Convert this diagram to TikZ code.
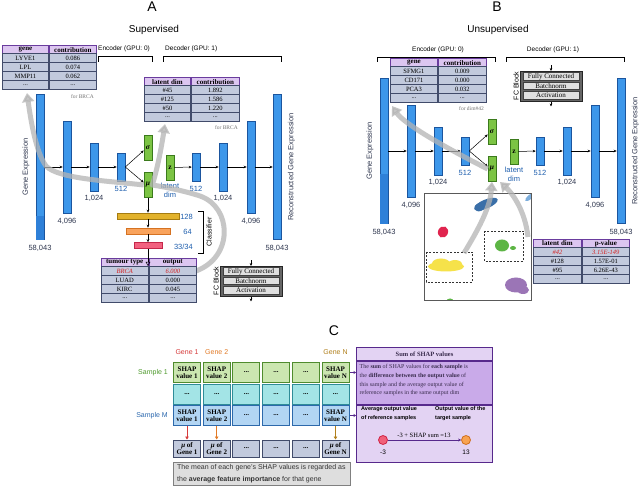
\documentclass[tikz,border=0pt]{standalone}
\usepackage{fontspec}
\setmainfont{Liberation Serif}
\setsansfont{Liberation Sans}
\usetikzlibrary{arrows.meta,calc}
\definecolor{barfill}{HTML}{3D97EA}
\definecolor{bardark}{HTML}{2E80D8}
\definecolor{barline}{HTML}{1B559E}
\definecolor{grfill}{HTML}{7CC444}
\definecolor{grline}{HTML}{3B7A1C}
\definecolor{thfill}{HTML}{DCC6F0}
\definecolor{thline}{HTML}{6A3C9E}
\definecolor{trfill}{HTML}{C2CADD}
\definecolor{trline}{HTML}{414B6A}
\definecolor{labblue}{HTML}{1F5FAE}
\definecolor{labgray}{HTML}{303850}
\definecolor{ybar}{HTML}{E2B22C}
\definecolor{ybarl}{HTML}{A57C12}
\definecolor{obar}{HTML}{F9A35C}
\definecolor{obarl}{HTML}{D57222}
\definecolor{rbar}{HTML}{F2617F}
\definecolor{rbarl}{HTML}{C5274A}
\definecolor{redtxt}{HTML}{D42020}
\definecolor{garr}{HTML}{B4B4B4}
\definecolor{c1fill}{HTML}{CBE6B0}
\definecolor{c1line}{HTML}{4F8B2E}
\definecolor{c2fill}{HTML}{A3E4E6}
\definecolor{c2line}{HTML}{2F8C98}
\definecolor{c3fill}{HTML}{B2D5F3}
\definecolor{c3line}{HTML}{2D69AB}
\definecolor{sumhead}{HTML}{E3D3F3}
\definecolor{sumdesc}{HTML}{C9AAE9}
\definecolor{sumline}{HTML}{57298C}
\definecolor{sumtext}{HTML}{3A2D4E}
\definecolor{gene1}{HTML}{D63A3A}
\definecolor{gene2}{HTML}{E27A26}
\definecolor{geneN}{HTML}{B07F1A}
\definecolor{samp1}{HTML}{4E9A2C}
\definecolor{sampM}{HTML}{2B68AE}
\definecolor{cblue}{HTML}{3A6FA8}
\definecolor{clblue}{HTML}{7DAEDC}
\definecolor{cred}{HTML}{E0244E}
\definecolor{cgreen}{HTML}{5DB545}
\definecolor{cyellow}{HTML}{F6E24A}
\definecolor{cpurple}{HTML}{9B75B6}
\definecolor{circr}{HTML}{F0607A}
\definecolor{circrl}{HTML}{D02444}
\definecolor{circo}{HTML}{F8A352}
\definecolor{circol}{HTML}{D07020}

\tikzset{
 bar/.style={draw=barline, fill=barfill, line width=0.6pt, minimum width=8, inner sep=0},
 grnbox/.style={draw=grline, fill=grfill, line width=0.6pt, minimum width=8, minimum height=25, inner sep=0, font=\rmfamily\bfseries\itshape\fontsize{7.5}{8}\selectfont},
 numlab/.style={text=labgray, font=\sffamily\fontsize{7.5}{9}\selectfont, inner sep=0},
 bluelab/.style={text=labblue, font=\sffamily\fontsize{7.5}{9.5}\selectfont, inner sep=0, align=center},
 arr/.style={-{Stealth[length=3pt,width=2.6pt]}, line width=0.5pt, black},
 thead/.style={draw=thline, fill=thfill, line width=0.9pt, minimum height=8, inner sep=0, font=\rmfamily\bfseries\fontsize{7}{8}\selectfont},
 trow/.style={draw=trline, fill=trfill, line width=0.9pt, minimum height=9, inner sep=0, font=\rmfamily\fontsize{6.5}{7}\selectfont},
 tnote/.style={text=black!55, font=\rmfamily\fontsize{5.5}{6}\selectfont, inner sep=0},
 brtext/.style={font=\sffamily\fontsize{6.5}{7}\selectfont, inner sep=0},
 garrow/.style={draw=garr, line width=5pt, opacity=0.75, line join=round, -{Triangle[length=9pt,width=12pt]}},
 fcouter/.style={draw=black!85, fill=black!60, line width=0.9pt, minimum width=62, minimum height=30, inner sep=0},
 fcrow/.style={draw=black!75, fill=black!12, line width=0.5pt, minimum width=56, minimum height=7.5, inner sep=0, font=\rmfamily\fontsize{7}{7}\selectfont},
 cbox/.style={minimum width=27, minimum height=20, inner sep=0, line width=1pt, align=center, font=\rmfamily\bfseries\fontsize{7}{7.5}\selectfont},
 crowa/.style={cbox, draw=c1line, fill=c1fill},
 crowb/.style={cbox, draw=c2line, fill=c2fill},
 crowc/.style={cbox, draw=c3line, fill=c3fill},
 crowd/.style={cbox, draw=trline, fill=trfill, minimum height=17},
 sumbox/.style={draw=sumline, line width=1pt, minimum width=136, inner sep=0, anchor=north west},
}

\newcommand\vaenet[2]{%
 \node[bar, minimum height=145] (#1b1) at (40,167) {};
 \node[fill=bardark, minimum width=7.4, minimum height=#2, inner sep=0, anchor=south] (#1b1d) at (#1b1.south) {};
 \node[bar, minimum height=92] (#1b2) at (67,167) {};
 \node[bar, minimum height=48] (#1b3) at (94,167) {};
 \node[bar, minimum height=28] (#1b4) at (121,167) {};
 \node[grnbox] (#1sig) at (148,148) {σ};
 \node[grnbox] (#1mu) at (148,185) {μ};
 \node[grnbox, font=\rmfamily\bfseries\fontsize{7.5}{8}\selectfont] (#1z) at (170,167.5) {z};
 \node[bar, minimum height=28] (#1b5) at (196,167) {};
 \node[bar, minimum height=48] (#1b6) at (223,167) {};
 \node[bar, minimum height=92] (#1b7) at (251,167) {};
 \node[bar, minimum height=145] (#1b8) at (277,167) {};
 \draw[arr] (#1b1) -- (#1b2);
 \draw[arr] (#1b2) -- (#1b3);
 \draw[arr] (#1b3) -- (#1b4);
 \draw[arr] (#1b4.east) -- (#1sig.-150);
 \draw[arr] (#1b4.east) -- (#1mu.150);
 \draw[arr] (#1z) -- (#1b5);
 \draw[arr] (#1b5) -- (#1b6);
 \draw[arr] (#1b6) -- (#1b7);
 \draw[arr] (#1b7) -- (#1b8);
 \node[numlab, anchor=north, yshift=-5pt] (#1l1) at (#1b1.south) {58,043};
 \node[numlab, anchor=north, yshift=-5pt] (#1l2) at (#1b2.south) {4,096};
 \node[numlab, anchor=north, yshift=-4pt] (#1l3) at (#1b3.south) {1,024};
 \node[bluelab, anchor=north, yshift=-5pt] (#1l4) at (#1b4.south) {512};
 \node[bluelab, anchor=north, yshift=-2.5pt] (#1lz) at (#1z.south) {latent\\dim};
 \node[bluelab, anchor=north, yshift=-5pt] (#1l5) at (#1b5.south) {512};
 \node[numlab, anchor=north, yshift=-4pt] (#1l6) at (#1b6.south) {1,024};
 \node[numlab, anchor=north, yshift=-5pt] (#1l7) at (#1b7.south) {4,096};
 \node[numlab, anchor=north, yshift=-5pt] (#1l8) at (#1b8.south) {58,043};
 \node[numlab, rotate=90] (#1ge) at ([xshift=-14pt]#1b1.center) {Gene Expression};
 \node[numlab, rotate=90] (#1rge) at ([xshift=14.5pt]#1b8.center) {Reconstructed Gene Expression};
}

\newcommand\mkhead[7]{%
 \node[thead, minimum width=#4, anchor=north west] (#1h1) at (#2,#3) {#6};
 \node[thead, minimum width=#5, anchor=north west] (#1h2) at (#1h1.north east) {#7};
}
\newcommand\mkrow[7]{%
 \node[trow, minimum width=#4, anchor=north west] (#1a) at (#2,#3) {#6};
 \node[trow, minimum width=#5, anchor=north west] (#1b) at (#1a.north east) {#7};
}
\newcommand\fcblock[3]{%
 \node[fcouter, anchor=north] (#1fc) at (#2,#3) {};
 \node[fcrow] (#1fc1) at (#2,#3+5.5) {Fully Connected};
 \node[fcrow] (#1fc2) at (#2,#3+15) {Batchnorm};
 \node[fcrow] (#1fc3) at (#2,#3+24.5) {Activation};
 \coordinate (#1fcin) at (#2,#3-5.5);
 \coordinate (#1fcout) at (#2,#3+35.5);
 \draw[arr] (#1fcin) -- (#1fc.north);
 \draw[arr] (#1fc.south) -- (#1fcout);
 \node[rotate=90, font=\sffamily\fontsize{7}{8}\selectfont, inner sep=0] (#1fcl) at (#2-35,#3+15) {FC Block};
}
\newcommand\shaprow[9]{%
 \node[#3] (#1a) at (187,#2) {#4};
 \node[#3] (#1b) at (216.7,#2) {#5};
 \node[#3] (#1c) at (246.4,#2) {#6};
 \node[#3] (#1d) at (276.1,#2) {#7};
 \node[#3] (#1e) at (305.8,#2) {#8};
 \node[#3] (#1f) at (335.5,#2) {#9};
}

\begin{document}
\begin{tikzpicture}[x=1pt,y=-1pt]
\useasboundingbox (0,0) rectangle (640,494);
\fill[white] (0,0) rectangle (640,494);

% ---------- titles ----------
\node[font=\sffamily\fontsize{14}{14}\selectfont, inner sep=0] (titA) at (152,7) {A};
\node[font=\sffamily\fontsize{10}{10}\selectfont, inner sep=0] (supA) at (154,30) {Supervised};
\node[font=\sffamily\fontsize{14}{14}\selectfont, inner sep=0] (titB) at (497,7) {B};
\node[font=\sffamily\fontsize{10}{10}\selectfont, inner sep=0] (supB) at (498,30) {Unsupervised};

% ---------- brackets ----------
\draw[line width=0.7pt] (98,62) -- (98,56) -- (152,56) -- (152,62);
\node[brtext, anchor=west] (encA) at (98,49) {Encoder (GPU: 0)};
\draw[line width=0.7pt] (163,62) -- (163,56) -- (281,56) -- (281,62);
\node[brtext, anchor=west] (decA) at (165,49) {Decoder (GPU: 1)};
\draw[line width=0.7pt] (377,62) -- (377,57) -- (495,57) -- (495,62);
\node[brtext] (encB) at (438,50) {Encoder (GPU: 0)};
\draw[line width=0.7pt] (506,62) -- (506,57) -- (624,57) -- (624,62);
\node[brtext] (decB) at (553,50) {Decoder (GPU: 1)};

% ---------- networks ----------
\vaenet{A}{24}
\begin{scope}[shift={(344,-16)}]
\vaenet{B}{50}
\end{scope}

% ---------- classifier ----------
\node[draw=ybarl, fill=ybar, line width=0.6pt, minimum width=62, minimum height=6, inner sep=0] (cl1) at (148,216) {};
\node[draw=obarl, fill=obar, line width=0.6pt, minimum width=44, minimum height=6, inner sep=0] (cl2) at (148,231) {};
\node[draw=rbarl, fill=rbar, line width=0.6pt, minimum width=28, minimum height=6, inner sep=0] (cl3) at (148,245.5) {};
\node[bluelab, anchor=east] (cl1l) at (193,216.5) {128};
\node[bluelab, anchor=east] (cl2l) at (192,231.5) {64};
\node[bluelab, anchor=east] (cl3l) at (193,246.5) {33/34};
\draw[arr] (Amu) -- (cl1);
\draw[arr] (cl1) -- (cl2);
\draw[arr] (cl2) -- (cl3);
\draw[line width=0.7pt] (198,211) -- (203,211) -- (203,253) -- (198,253);
\node[rotate=90, font=\sffamily\fontsize{7}{8}\selectfont, inner sep=0] (clsl) at (209,232) {Classifier};

% ---------- scatter ----------
\begin{scope}
\clip (424,193) rectangle (531,300);
\fill[cblue, rotate around={22:(486,204)}] (486,204) ellipse [x radius=12.5, y radius=4.5];
\fill[cblue, rotate around={22:(480,207)}] (480,207) ellipse [x radius=6, y radius=4];
\fill[clblue, rotate around={40:(530,197)}] (530,197) ellipse [x radius=6, y radius=2.2];
\fill[cred, rotate around={-25:(443,232)}] (443,232) ellipse [x radius=5, y radius=5.8];
\fill[cgreen] (502,245.5) ellipse [x radius=7, y radius=6];
\fill[cgreen] (513,248) ellipse [x radius=3, y radius=2];
\fill[cyellow] (446,266.5) ellipse [x radius=18, y radius=5];
\fill[cyellow] (441,263.5) ellipse [x radius=9, y radius=5];
\fill[cyellow] (455,264) ellipse [x radius=7, y radius=4];
\fill[cpurple] (516,285) ellipse [x radius=11, y radius=7.5];
\fill[cpurple] (523,290) ellipse [x radius=6, y radius=4];
\fill[cgreen] (450,301) ellipse [x radius=3.5, y radius=2.5];
\end{scope}
\node[draw=black!65, line width=0.6pt, minimum width=107, minimum height=107, inner sep=0, anchor=north west] (scat) at (424,193) {};
\draw[dash pattern=on 2pt off 1.5pt, black!80, line width=0.6pt] (484,231) rectangle (523,261);
\draw[dash pattern=on 2pt off 1.5pt, black!80, line width=0.6pt] (426,252) rectangle (472,282);

% ---------- gray attribution arrows ----------
\coordinate (tAout) at (196,271);
\coordinate (lAtip) at (165,124);
\coordinate (gAtip) at (27,93);
\coordinate (gBtip) at (392,106);
\coordinate (ybox) at (464,253);
\coordinate (pBout) at (528,237);
\coordinate (Bzm) at (500,182);
\draw[garrow] (tAout) .. controls (234,257) and (232,207) .. (200,196) .. controls (185,191) and (165,187) .. (Amu.east) .. controls (157,170) and (161,150) .. (lAtip);
\draw[garrow] (Amu.west) .. controls (110,181) and (58,179) .. (46,166) .. controls (36,152) and (31,122) .. (gAtip);
\draw[garrow] (Bmu.west) .. controls (450,150) and (405,125) .. (gBtip);
\draw[garrow] (ybox) .. controls (478,230) and (490,208) .. (Bmu.south);
\draw[garrow] (pBout) .. controls (525,210) and (512,193) .. (Bzm);

% ---------- tables ----------
\mkhead{gA}{2}{45.5}{46}{47}{gene}{contribution}
\mkrow{gA1}{2}{53.5}{46}{47}{LYVE1}{0.086}
\mkrow{gA2}{2}{62.5}{46}{47}{LPL}{0.074}
\mkrow{gA3}{2}{71.5}{46}{47}{MMP11}{0.062}
\mkrow{gA4}{2}{80.5}{46}{47}{...}{...}
\node[tnote, anchor=east] (gAn) at (94,97) {for BRCA};

\mkhead{lA}{144}{77.5}{46}{48}{latent dim}{contribution}
\mkrow{lA1}{144}{85.5}{46}{48}{\#45}{1.892}
\mkrow{lA2}{144}{94.5}{46}{48}{\#125}{1.586}
\mkrow{lA3}{144}{103.5}{46}{48}{\#50}{1.220}
\mkrow{lA4}{144}{112.5}{46}{48}{...}{...}
\node[tnote, anchor=east] (lAn) at (238,128) {for BRCA};

\mkhead{tA}{100.5}{258}{47.5}{47}{tumour type}{output}
\mkrow{tA1}{100.5}{266}{47.5}{47}{\textcolor{redtxt}{\textit{BRCA}}}{\textcolor{redtxt}{\textit{6.000}}}
\mkrow{tA2}{100.5}{275}{47.5}{47}{LUAD}{0.000}
\mkrow{tA3}{100.5}{284}{47.5}{47}{KIRC}{0.045}
\mkrow{tA4}{100.5}{293}{47.5}{47}{...}{...}
\draw[-{Triangle[open,length=4pt,width=4.5pt]}, line width=0.5pt] (cl3) -- (cl3 |- tA1a.north);

\mkhead{gB}{390}{58.5}{47}{48}{gene}{contribution}
\mkrow{gB1}{390}{66.5}{47}{48}{SFMG1}{0.009}
\mkrow{gB2}{390}{75.5}{47}{48}{CD171}{0.000}
\mkrow{gB3}{390}{84.5}{47}{48}{PCA3}{0.032}
\mkrow{gB4}{390}{93.5}{47}{48}{...}{...}
\node[tnote, anchor=east] (gBn) at (484,108.5) {for dim\#42};

\mkhead{pB}{533}{239}{48}{47}{latent dim}{p-value}
\mkrow{pB1}{533}{247}{48}{47}{\textcolor{redtxt}{\textit{\#42}}}{\textcolor{redtxt}{\textit{3.15E-149}}}
\mkrow{pB2}{533}{256}{48}{47}{\#128}{1.57E-01}
\mkrow{pB3}{533}{265}{48}{47}{\#95}{6.26E-43}
\mkrow{pB4}{533}{274}{48}{47}{...}{...}

% ---------- FC blocks ----------
\fcblock{A}{251}{266}
\fcblock{B}{551}{71}

% ---------- panel C ----------
\node[font=\sffamily\fontsize{14}{14}\selectfont, inner sep=0] (titC) at (334,331) {C};
\node[font=\sffamily\fontsize{7}{8}\selectfont, text=gene1, inner sep=0] (g1) at (187,352) {Gene 1};
\node[font=\sffamily\fontsize{7}{8}\selectfont, text=gene2, inner sep=0] (g2) at (216.7,352) {Gene 2};
\node[font=\sffamily\fontsize{7}{8}\selectfont, text=geneN, inner sep=0] (gN) at (335.5,352) {Gene N};
\node[font=\sffamily\fontsize{7}{8}\selectfont, text=samp1, inner sep=0, anchor=east] (s1) at (168,372.5) {Sample 1};
\node[font=\sffamily\fontsize{7}{8}\selectfont, text=sampM, inner sep=0, anchor=east] (sM) at (168,415.5) {Sample M};

\shaprow{r1}{372.5}{crowa}{SHAP\\value 1}{SHAP\\value 2}{...}{...}{...}{SHAP\\value N}
\shaprow{r2}{394}{crowb}{...}{...}{...}{...}{...}{...}
\shaprow{r3}{415.5}{crowc}{SHAP\\value 1}{SHAP\\value 2}{...}{...}{...}{SHAP\\value N}
\shaprow{r4}{448.5}{crowd}{\textit{μ} of\\Gene 1}{\textit{μ} of\\Gene 2}{...}{...}{...}{\textit{μ} of\\Gene N}

\draw[-{Triangle[length=3pt,width=3.5pt]}, gene1, line width=0.7pt] (r3a) -- (r4a);
\draw[-{Triangle[length=3pt,width=3.5pt]}, gene2, line width=0.7pt] (r3b) -- (r4b);
\draw[-{Triangle[length=3pt,width=3.5pt]}, geneN, line width=0.7pt] (r3f) -- (r4f);

\node[draw=black!50, fill=black!13, line width=0.8pt, minimum width=177, minimum height=23, inner sep=0, anchor=north west] (notebox) at (173,462) {};
\node[anchor=north west, align=left, inner sep=0, font=\sffamily\fontsize{7}{12}\selectfont, text=black!80] (notetxt) at (177,464) {The mean of each gene's SHAP values is regarded as\\the \textbf{average feature importance} for that gene};

\node[sumbox, fill=sumhead, minimum height=13, font=\rmfamily\bfseries\fontsize{6.5}{7}\selectfont, text=sumtext] (sumh) at (356,347) {Sum of SHAP values};
\node[sumbox, fill=sumdesc, minimum height=43] (sumd) at (sumh.south west) {};
\node[sumbox, fill=sumhead, minimum height=57] (sumb) at (sumd.south west) {};
\node[anchor=north west, align=left, inner sep=0, font=\rmfamily\fontsize{6}{8.8}\selectfont, text=sumtext] (sumtxt) at (359.5,364) {The \textbf{sum} of SHAP values for \textbf{each sample} is\\the \textbf{difference between the output value} of\\this sample and the average output value of\\reference samples in the same output dim};
\node[anchor=north west, align=left, inner sep=0, font=\sffamily\bfseries\fontsize{5.5}{9}\selectfont] (avgtxt) at (361,406.5) {Average output value\\of reference samples};
\node[anchor=north west, align=left, inner sep=0, font=\sffamily\bfseries\fontsize{5.5}{9}\selectfont] (outtxt) at (435,406.5) {Output value of the\\target sample};
\node[circle, draw=circrl, fill=circr, line width=0.8pt, minimum size=9, inner sep=0] (cr) at (383,440) {};
\node[circle, draw=circol, fill=circo, line width=0.8pt, minimum size=9, inner sep=0] (co) at (466,440) {};
\draw[-{Stealth[length=3pt,width=3pt]}, sumline, line width=0.8pt] (cr) -- (co);
\node[font=\rmfamily\fontsize{6.5}{7}\selectfont, inner sep=0] (sumlab) at (424,435) {-3 + SHAP sum =13};
\node[font=\sffamily\fontsize{6.5}{7}\selectfont, inner sep=0] (crl) at (383,452) {-3};
\node[font=\sffamily\fontsize{6.5}{7}\selectfont, inner sep=0] (col) at (466,452) {13};

\draw[-{Stealth[length=2.5pt,width=3pt]}, sumline, line width=0.8pt] (r1f.east) -- (r1f.east -| sumd.west);
\draw[-{Stealth[length=2.5pt,width=3pt]}, sumline, line width=0.8pt] (r3f.east) -- (r3f.east -| sumb.west);
\end{tikzpicture}
\end{document}
